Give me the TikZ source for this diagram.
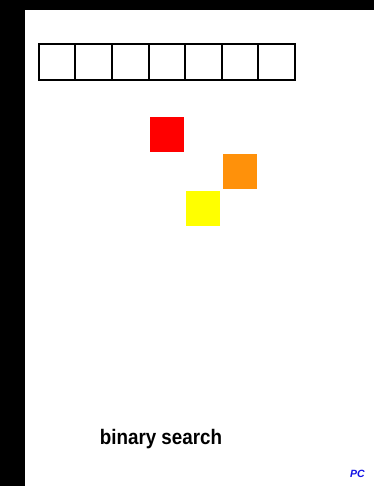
\documentclass[tikz,border=0pt]{standalone}
\usepackage{fontspec}
\setmainfont{Liberation Sans}
\definecolor{sqred}{RGB}{255,0,0}
\definecolor{sqorange}{RGB}{255,145,10}
\definecolor{sqyellow}{RGB}{255,255,0}
\definecolor{pcblue}{RGB}{20,20,230}
\begin{document}
\begin{tikzpicture}[x=1pt,y=-1pt,
  cell/.style={draw=black,line width=2pt,minimum width=36.6pt,minimum height=36.6pt,inner sep=0pt,outer sep=0pt,fill=white},
  sq/.style={minimum width=34pt,minimum height=35pt,inner sep=0pt,outer sep=0pt,draw=none}]
\useasboundingbox (0,0) rectangle (374,486);
\fill[black] (0,0) rectangle (374,486);
\fill[white] (25,10) rectangle (374,486);
\foreach \i in {0,...,6}{
  \node[cell] (c\i) at ({57+36.6*\i},62) {};
}
\node[sq,fill=sqred] (r) at (167,135) {};
\node[sq,fill=sqorange] (o) at (240,171.5) {};
\node[sq,fill=sqyellow] (y) at (203,208) {};
\node[font=\fontsize{20}{22}\selectfont\bfseries,inner sep=0pt,anchor=base,xscale=0.94,yscale=1.05] (t) at (161,444.5) {binary search};
\node[font=\fontsize{10.5}{12}\selectfont\bfseries\itshape,text=pcblue,inner sep=0pt] (pc) at (357.5,473.5) {PC};
\end{tikzpicture}
\end{document}
